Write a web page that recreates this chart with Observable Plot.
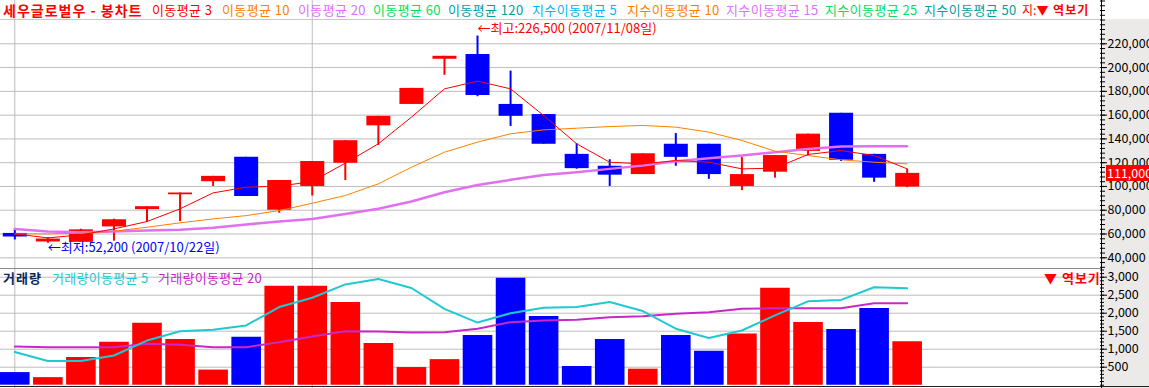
<!DOCTYPE html>
<html><head><meta charset="utf-8">
<script src="https://cdn.jsdelivr.net/npm/d3@7"></script>
<script src="https://cdn.jsdelivr.net/npm/@observablehq/plot@0.6"></script>
<style>
body{margin:0;background:#fff;font-family:"Noto Sans CJK KR",sans-serif;}
#wrap{position:relative;width:1149px;height:388px;overflow:hidden;background:#fff;}
#wrap svg{position:absolute;left:0;}
.abs{position:absolute;white-space:nowrap;font-size:13px;}
</style></head><body><div id="wrap"></div>
<script>
// ---- data ----
const dates = ["2007/10/19","2007/10/22","2007/10/23","2007/10/24","2007/10/25","2007/10/26","2007/10/29","2007/10/30","2007/10/31","2007/11/01","2007/11/02","2007/11/05","2007/11/06","2007/11/07","2007/11/08","2007/11/09","2007/11/12","2007/11/13","2007/11/14","2007/11/15","2007/11/16","2007/11/19","2007/11/20","2007/11/21","2007/11/22","2007/11/23","2007/11/26","2007/11/27"];
const open  = [60500,53300,53000,66000,80500,93000,104000,124500,80000,100000,119500,151000,169000,207000,211000,169000,160500,127000,117000,110000,135500,135500,100000,112000,129500,161500,127000,99500];
const close = [57500,55800,63500,72000,83000,94500,108500,91500,105000,121000,138500,159000,182500,209500,176500,159000,135500,115000,109500,127500,124500,110000,110000,126000,144000,122000,107000,111000];
const high  = [64000,57000,64000,72500,83000,94500,108500,124500,105000,121000,138500,159000,182500,209500,226500,197000,160500,136000,122500,127500,144500,135500,124500,126000,144000,161500,127000,114500];
const low   = [55000,52200,53000,54000,70000,70500,100000,91500,77500,92000,105000,134500,169000,193500,175500,150500,135500,114500,100000,110000,117000,106000,96500,107000,126000,121000,103500,99000];
const volume = [350,210,770,1190,1720,1270,420,1330,2750,2750,2300,1160,490,710,1380,2970,1910,520,1270,445,1380,940,1420,2690,1740,1550,2130,1210];
const ma3  = [60100,56750,59300,64300,70500,81200,94600,99400,100200,104200,119600,135900,158300,182100,188600,182100,159700,135900,120400,119000,121800,120400,114800,115400,126900,130200,126000,114800];
const ma10 = [60100,60100,60600,62400,65700,69400,72700,75500,79700,85900,92400,102200,116200,128800,137300,144300,147600,149000,150400,151300,149900,145700,138700,129700,126000,122400,120400,119000];
const ma20 = [64300,62100,61500,62100,62900,63500,65200,68000,70500,72700,76900,81200,87300,95200,101300,105600,109600,112000,114800,117600,121300,123800,126000,128800,131600,133600,133900,133900];
const vma5  = [920,670,670,825,1240,1500,1540,1660,2170,2430,2800,2950,2700,2120,1740,2000,2150,2170,2310,2060,1570,1310,1520,1940,2330,2370,2720,2690];
const vma20 = [1075,1056,1056,1056,1150,1122,1056,1056,1194,1353,1500,1490,1464,1470,1567,1750,1797,1815,1889,1917,1983,2028,2122,2139,2139,2139,2278,2278];
const priceTicks = [40000,60000,80000,100000,120000,140000,160000,180000,200000,220000];
const volTicks = [500,1000,1500,2000,2500,3000];
const title = "세우글로벌우 - 봉차트";
const maLegend = ["이동평균 3","이동평균 10","이동평균 20","이동평균 60","이동평균 120","지수이동평균 5","지수이동평균 10","지수이동평균 15","지수이동평균 25","지수이동평균 50"];
const volLegend = ["거래량","거래량이동평균 5","거래량이동평균 20"];

// ---- build ----
const UP = "#ff0000", DOWN = "#0000ff", GRID = "#bdbdbd";
const fmt = d3.format(",");
const candles = dates.map((d, i) => ({i, date: d, open: open[i], close: close[i], high: high[i], low: low[i], volume: volume[i],
  ma3: ma3[i], ma10: ma10[i], ma20: ma20[i], vma5: vma5[i], vma20: vma20[i]}));
const col = d => d.close >= d.open ? UP : DOWN;
const monthStarts = candles.filter((d, i) => i === 0 || d.date.slice(5, 7) !== candles[i - 1].date.slice(5, 7)).map(d => d.i);
const hi = d3.greatest(candles, d => d.high), lo = d3.least(candles, d => d.low);
const xDomain = [-0.433, 32.88];
const common = {width: 1149, marginLeft: 0, marginRight: 48, marginTop: 0, marginBottom: 0,
  color: {type: "identity"},
  style: {background: "transparent", fontFamily: "'Noto Sans CJK KR', sans-serif", fontSize: "12.5px", color: "black", overflow: "visible"}};

const price = Plot.plot({...common, height: 269,
  x: {domain: xDomain, axis: null},
  y: {domain: [30160, 256420], axis: null},
  marks: [
    Plot.ruleY(priceTicks, {stroke: GRID}),
    Plot.ruleX(monthStarts, {stroke: GRID}),
    Plot.ruleX(candles, {x: "i", y1: "low", y2: "high", stroke: col, strokeWidth: 2}),
    Plot.ruleX(candles, {x: "i", y1: "open", y2: "close", stroke: col, strokeWidth: 24}),
    Plot.line(candles, {x: "i", y: "ma20", stroke: "#e070f0", strokeWidth: 2.5}),
    Plot.line(candles, {x: "i", y: "ma10", stroke: "#ff8000", strokeWidth: 1}),
    Plot.line(candles, {x: "i", y: "ma3", stroke: "#ff0000", strokeWidth: 1}),
    Plot.text([hi], {x: "i", y: "high", text: d => `←최고:${fmt(d.high)} (${d.date}일)`, textAnchor: "start", dy: -7, fill: "#ff0000", fontSize: 13}),
    Plot.text([lo], {x: "i", y: "low", text: d => `←최저:${fmt(d.low)} (${d.date}일)`, textAnchor: "start", dy: 5, fill: "#0000ff", fontSize: 13}),
    Plot.axisY({anchor: "right", ticks: d3.range(32000, 256001, 4000), tickSize: 5, dx: -2, tickFormat: () => "", label: null}),
    Plot.axisY({anchor: "right", ticks: priceTicks, tickSize: 5, tickPadding: 1, tickFormat: fmt, label: null})
  ]
});

const vol = Plot.plot({...common, height: 119,
  x: {domain: xDomain, axis: null},
  y: {domain: [-92, 3214], axis: null},
  marks: [
    Plot.ruleY(volTicks, {stroke: GRID}),
    Plot.ruleX(monthStarts, {stroke: GRID}),
    Plot.ruleX(candles, {x: "i", y1: 0, y2: "volume", stroke: col, strokeWidth: 29.6}),
    Plot.line(candles, {x: "i", y: "vma20", stroke: "#c828c8", strokeWidth: 2}),
    Plot.line(candles, {x: "i", y: "vma5", stroke: "#20c8d0", strokeWidth: 2}),
    Plot.axisY({anchor: "right", ticks: d3.range(0, 3201, 100), tickSize: 4, dx: -2, tickFormat: () => "", label: null}),
    Plot.axisY({anchor: "right", ticks: volTicks, tickSize: 5, tickPadding: 1, tickFormat: fmt, label: null})
  ]
});

const wrap = document.getElementById("wrap");
function div(css, html) { const e = document.createElement("div"); e.className = "abs"; e.style.cssText = css; if (html != null) e.innerHTML = html; wrap.appendChild(e); return e; }
// axis panel background and frame lines
div("left:1102px;top:19px;width:47px;height:369px;background:#ece9e9;");
div("left:0;top:19px;width:1101px;height:1px;background:#c8c8c8;");
price.style.top = "0px"; wrap.appendChild(price);
vol.style.top = "269px"; wrap.appendChild(vol);
div("left:0;top:268px;width:1101px;height:1px;background:#8a8a8a;");
div("left:0;top:386px;width:1149px;height:1px;background:#222;");
div("left:1101px;top:0;width:1px;height:388px;background:#000;");

// last price marker
const last = candles[candles.length - 1];
const yy = price.scale("y").apply(last.close);
div(`left:1106px;top:${yy - 8}px;width:43px;height:16px;line-height:16px;font-size:12.5px;background:${col(last)};color:#fff;padding-left:1px;`, fmt(last.close));

// top legend
const maColors = ["#ff0000","#ff8000","#e070ff","#00e060","#00a0a0","#00b8f0","#ff8000","#e070ff","#00e060","#00a0a0"];
const maLeft = [152, 222, 298, 373, 448, 532, 627, 726, 825, 924];
div("left:3px;top:0;line-height:20px;font-size:14px;font-weight:bold;letter-spacing:1px;color:#ff0000;", title);
maLegend.forEach((t, k) => div(`left:${maLeft[k]}px;top:0;line-height:20px;letter-spacing:0.4px;color:${maColors[k]};`, t));
div("left:1022px;top:0;line-height:20px;font-size:12px;color:#ff0000;", '지:<b style="letter-spacing:1px">▼ 역보기</b>');

// volume legend
const vColors = ["#0a2860", "#20c8d0", "#c828c8"];
const vLeft = [3, 52, 158];
volLegend.forEach((t, k) => div(`left:${vLeft[k]}px;top:270px;line-height:16px;color:${vColors[k]};${k === 0 ? "font-weight:bold;letter-spacing:1px;" : "letter-spacing:0.3px;"}`, t));
div("left:1044px;top:270px;line-height:16px;color:#ff0000;font-weight:bold;letter-spacing:1px;", "▼ 역보기");
</script></body></html>
